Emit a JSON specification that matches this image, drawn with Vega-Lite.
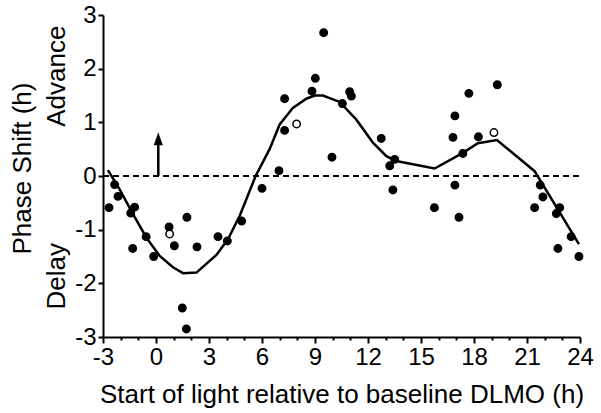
{
  "$schema": "https://vega.github.io/schema/vega-lite/v6.json",
  "width": 477,
  "height": 322,
  "autosize": "none",
  "padding": {"left": 103, "top": 15, "right": 21, "bottom": 76},
  "background": "white",
  "datasets": {
    "zero": [{"x": -3, "y": 0}, {"x": 24, "y": 0}],
    "curve": [
      {"x": -2.72, "y": 0.11}, {"x": -2.06, "y": -0.25}, {"x": -1.30, "y": -0.71}, {"x": -0.54, "y": -1.15},
      {"x": 0.21, "y": -1.49}, {"x": 0.96, "y": -1.70}, {"x": 1.53, "y": -1.81}, {"x": 2.29, "y": -1.80},
      {"x": 3.42, "y": -1.47}, {"x": 4.07, "y": -1.18}, {"x": 4.74, "y": -0.74}, {"x": 5.64, "y": 0.0},
      {"x": 6.43, "y": 0.50}, {"x": 7.0, "y": 0.96}, {"x": 7.75, "y": 1.27}, {"x": 8.51, "y": 1.44},
      {"x": 8.98, "y": 1.50}, {"x": 9.45, "y": 1.50}, {"x": 10.4, "y": 1.38}, {"x": 11.34, "y": 1.05},
      {"x": 12.28, "y": 0.62}, {"x": 13.04, "y": 0.37}, {"x": 13.6, "y": 0.28}, {"x": 15.77, "y": 0.14},
      {"x": 17.37, "y": 0.43}, {"x": 18.22, "y": 0.61}, {"x": 19.3, "y": 0.67}, {"x": 21.43, "y": 0.09},
      {"x": 23.94, "y": -1.27}
    ],
    "points": [
      {"x": -2.66, "y": -0.59, "type": "filled"}, {"x": -2.34, "y": -0.16, "type": "filled"},
      {"x": -2.15, "y": -0.38, "type": "filled"}, {"x": -1.43, "y": -0.69, "type": "filled"},
      {"x": -1.21, "y": -0.58, "type": "filled"}, {"x": -1.32, "y": -1.35, "type": "filled"},
      {"x": -0.56, "y": -1.13, "type": "filled"}, {"x": -0.13, "y": -1.50, "type": "filled"},
      {"x": 0.74, "y": -0.95, "type": "filled"}, {"x": 1.04, "y": -1.30, "type": "filled"},
      {"x": 1.75, "y": -0.77, "type": "filled"}, {"x": 1.49, "y": -2.46, "type": "filled"},
      {"x": 1.72, "y": -2.85, "type": "filled"}, {"x": 2.32, "y": -1.32, "type": "filled"},
      {"x": 3.51, "y": -1.13, "type": "filled"}, {"x": 4.04, "y": -1.21, "type": "filled"},
      {"x": 4.85, "y": -0.84, "type": "filled"}, {"x": 6.0, "y": -0.23, "type": "filled"},
      {"x": 6.96, "y": 0.10, "type": "filled"}, {"x": 7.28, "y": 0.85, "type": "filled"},
      {"x": 7.28, "y": 1.44, "type": "filled"}, {"x": 8.83, "y": 1.58, "type": "filled"},
      {"x": 9.02, "y": 1.82, "type": "filled"}, {"x": 9.49, "y": 2.67, "type": "filled"},
      {"x": 9.96, "y": 0.35, "type": "filled"}, {"x": 10.55, "y": 1.35, "type": "filled"},
      {"x": 10.96, "y": 1.57, "type": "filled"}, {"x": 11.06, "y": 1.49, "type": "filled"},
      {"x": 12.75, "y": 0.70, "type": "filled"}, {"x": 13.23, "y": 0.19, "type": "filled"},
      {"x": 13.51, "y": 0.31, "type": "filled"}, {"x": 13.41, "y": -0.26, "type": "filled"},
      {"x": 15.76, "y": -0.59, "type": "filled"}, {"x": 16.81, "y": 0.72, "type": "filled"},
      {"x": 16.92, "y": 1.12, "type": "filled"}, {"x": 16.92, "y": -0.17, "type": "filled"},
      {"x": 17.15, "y": -0.77, "type": "filled"}, {"x": 17.37, "y": 0.42, "type": "filled"},
      {"x": 17.71, "y": 1.54, "type": "filled"}, {"x": 18.25, "y": 0.73, "type": "filled"},
      {"x": 19.32, "y": 1.70, "type": "filled"}, {"x": 21.43, "y": -0.59, "type": "filled"},
      {"x": 21.75, "y": -0.17, "type": "filled"}, {"x": 21.9, "y": -0.39, "type": "filled"},
      {"x": 22.66, "y": -0.70, "type": "filled"}, {"x": 22.85, "y": -0.59, "type": "filled"},
      {"x": 22.75, "y": -1.35, "type": "filled"}, {"x": 23.5, "y": -1.13, "type": "filled"},
      {"x": 23.94, "y": -1.50, "type": "filled"},
      {"x": 0.77, "y": -1.08, "type": "open"}, {"x": 7.96, "y": 0.97, "type": "open"},
      {"x": 19.13, "y": 0.81, "type": "open"}
    ],
    "arrow": [{"x": 0.13, "y": 0, "y2": 0.62}],
    "arrowhead": [{"x": 0.13, "y": 0.695}],
    "labels": [{"x": -5.15, "y": 1.86, "label": "Advance"}, {"x": -5.15, "y": -1.87, "label": "Delay"}]
  },
  "encoding": {
    "x": {
      "field": "x", "type": "quantitative",
      "scale": {"domain": [-3, 24], "nice": false, "zero": false},
      "axis": {
        "values": [-3,-2,-1,0,1,2,3,4,5,6,7,8,9,10,11,12,13,14,15,16,17,18,19,20,21,22,23,24],
        "labelExpr": "datum.value % 3 === 0 ? '' + datum.value : ''",
        "tickSize": {"condition": {"test": "datum.value % 3 === 0", "value": 6}, "value": 3},
        "labelOverlap": false,
        "labelFlush": false,
        "titlePadding": 12,
        "title": "Start of light relative to baseline DLMO (h)"
      }
    },
    "y": {
      "field": "y", "type": "quantitative",
      "scale": {"domain": [-3, 3], "nice": false, "zero": false},
      "axis": {
        "values": [-3,-2,-1,0,1,2,3],
        "labelExpr": "'' + datum.value",
        "tickSize": 5,
        "titlePadding": 39,
        "titleY": 153,
        "title": "Phase Shift (h)"
      }
    }
  },
  "layer": [
    {
      "data": {"name": "zero"},
      "mark": {"type": "line", "color": "black", "strokeWidth": 2, "strokeDash": [6, 4]}
    },
    {
      "data": {"name": "curve"},
      "mark": {"type": "line", "color": "black", "strokeWidth": 2.5}
    },
    {
      "data": {"name": "points"},
      "mark": {"type": "point", "shape": "circle", "size": 55, "filled": true, "stroke": "black", "strokeWidth": 1.5, "opacity": 1},
      "encoding": {
        "fill": {"field": "type", "type": "nominal", "scale": {"domain": ["filled", "open"], "range": ["black", "white"]}, "legend": null}
      }
    },
    {
      "data": {"name": "arrow"},
      "mark": {"type": "rule", "color": "black", "strokeWidth": 2.5},
      "encoding": {"y2": {"field": "y2"}}
    },
    {
      "data": {"name": "arrowhead"},
      "mark": {"type": "point", "shape": "M-0.7,1L0.7,1L0,-1Z", "size": 169, "filled": true, "color": "black", "opacity": 1}
    },
    {
      "data": {"name": "labels"},
      "mark": {"type": "text", "angle": 270, "align": "center", "baseline": "alphabetic", "fontSize": 26, "font": "Liberation Sans", "color": "black"},
      "encoding": {"text": {"field": "label"}}
    }
  ],
  "config": {
    "view": {"stroke": null},
    "axis": {
      "grid": false,
      "domainColor": "black", "domainWidth": 2,
      "tickColor": "black", "tickWidth": 2,
      "labelColor": "black", "titleColor": "black",
      "labelFont": "Liberation Sans", "titleFont": "Liberation Sans",
      "labelFontSize": 24, "titleFontSize": 26, "titleFontWeight": "normal"
    }
  }
}
